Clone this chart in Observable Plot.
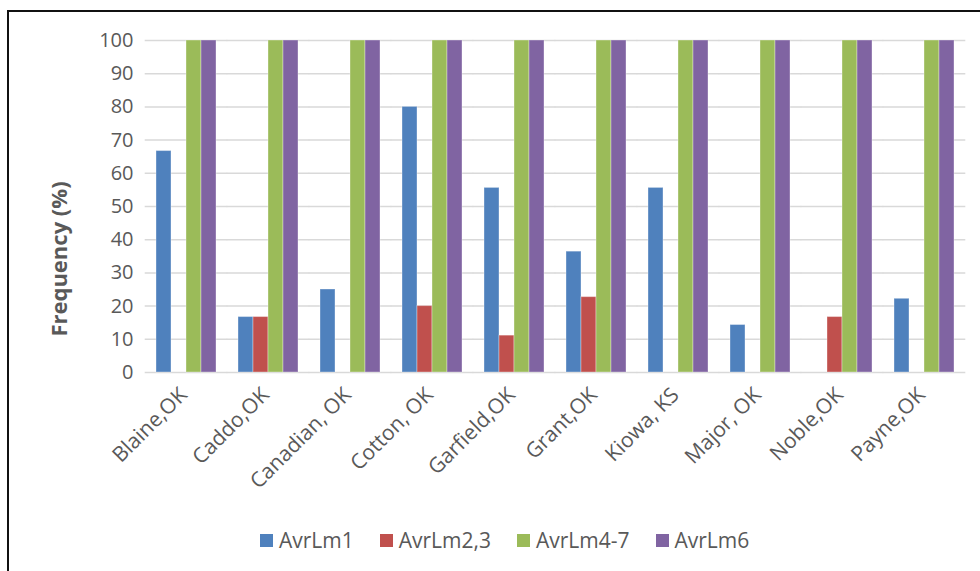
<!DOCTYPE html>
<html>
<head>
<meta charset="utf-8">
<script src="https://cdn.jsdelivr.net/npm/d3@7"></script>
<script src="https://cdn.jsdelivr.net/npm/@observablehq/plot@0.6"></script>
<style>
  html, body { margin: 0; padding: 0; background: #fff; overflow: hidden; }
  #page { position: relative; width: 980px; height: 571px; overflow: hidden; font-family: "Open Sans", sans-serif; }
  #frame { position: absolute; left: 7px; top: 10px; right: -20px; bottom: -20px; border: 2px solid #111; box-sizing: border-box; }
  #chart { position: absolute; left: 0; top: 0; }
  #ytitle { position: absolute; left: 58px; top: 259px; transform: translate(-50%, -50%) rotate(-90deg);
            font-weight: 700; font-size: 22px; color: #595959; white-space: nowrap; }
  #legend { position: absolute; left: 260px; top: 526px; display: flex; align-items: center; font-size: 21px; color: #595959; }
  #legend .item { display: flex; align-items: center; margin-right: 26px; }
  #legend .sw { width: 13px; height: 13px; margin-right: 6px; }
</style>
</head>
<body>
<div id="page">
  <div id="frame"></div>
  <div id="chart"></div>
  <div id="ytitle">Frequency (%)</div>
  <div id="legend"></div>
</div>
<script>
// Sampling locations (county, state)
const locations = ["Blaine,OK", "Caddo,OK", "Canadian, OK", "Cotton, OK", "Garfield,OK",
                   "Grant,OK", "Kiowa, KS", "Major, OK", "Noble,OK", "Payne,OK"];

// Avirulence gene series
const series = ["AvrLm1", "AvrLm2,3", "AvrLm4-7", "AvrLm6"];
const seriesColors = ["#4f81bd", "#c0504d", "#9bbb59", "#8064a2"];

// Frequency (%) of each gene per location
const avrLm1  = [66.7, 16.7, 25, 80, 55.6, 36.4, 55.6, 14.3, 0, 22.2];
const avrLm23 = [0, 16.7, 0, 20, 11.1, 22.7, 0, 0, 16.7, 0];
const avrLm47 = [100, 100, 100, 100, 100, 100, 100, 100, 100, 100];
const avrLm6  = [100, 100, 100, 100, 100, 100, 100, 100, 100, 100];

const yTicks = [0, 10, 20, 30, 40, 50, 60, 70, 80, 90, 100];

const seriesValues = [avrLm1, avrLm23, avrLm47, avrLm6];
const table = locations.flatMap((loc, i) =>
  series.map((s, j) => ({location: loc, series: s, value: seriesValues[j][i]})));

const chart = Plot.plot({
  width: 980,
  height: 520,
  marginLeft: 143,
  marginRight: 14,
  marginTop: 40,
  marginBottom: 148,
  style: {fontFamily: "Open Sans", fontSize: "20px", color: "#595959", background: "transparent"},
  fx: {domain: locations, paddingInner: 0.27, paddingOuter: 0.135, label: null},
  x: {domain: series, padding: 0, axis: null},
  y: {domain: [0, 100], label: null},
  color: {domain: series, range: seriesColors},
  marks: [
    // horizontal gridlines, stretched over the gaps between location groups
    Plot.ruleY(yTicks, {stroke: "#d9d9d9", strokeWidth: 1.5, insetLeft: -11.3, insetRight: -11.3}),
    Plot.barY(table.filter(d => d.value > 0), {
      fx: "location", x: "series", y: "value", fill: "series",
      stroke: "white", strokeOpacity: 0.35, strokeWidth: 1
    }),
    Plot.axisY({ticks: yTicks, tickSize: 0, tickPadding: 23, label: null, fontSize: 20}),
    Plot.axisFx({anchor: "bottom", tickRotate: -45, tickSize: 0, tickPadding: 19, dx: -3, label: null, fontSize: 21})
  ]
});
document.getElementById("chart").appendChild(chart);

// Legend
const legend = document.getElementById("legend");
series.forEach((s, j) => {
  const item = document.createElement("div");
  item.className = "item";
  const sw = document.createElement("div");
  sw.className = "sw";
  sw.style.background = seriesColors[j];
  const label = document.createElement("span");
  label.textContent = s;
  item.appendChild(sw);
  item.appendChild(label);
  legend.appendChild(item);
});
</script>
</body>
</html>
